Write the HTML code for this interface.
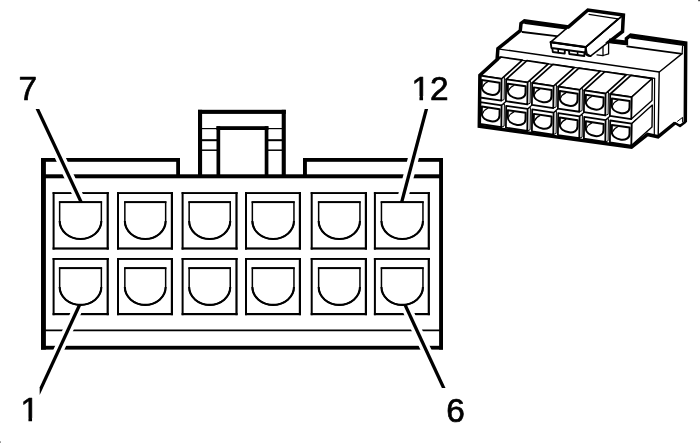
<!DOCTYPE html>
<html lang="en"><head><meta charset="utf-8"><title>12-way connector end view</title>
<style>
html,body{margin:0;padding:0;background:#fff;}
body{width:700px;height:443px;overflow:hidden;}
svg{display:block;font-family:"Liberation Sans",sans-serif;}
svg{will-change:transform;}
</style></head><body>
<svg width="700" height="443" viewBox="0 0 700 443">
<rect width="700" height="443" fill="#fff"/>
<rect x="41.00" y="158.00" width="4.90" height="191.60" fill="#000"/>
<rect x="439.10" y="158.00" width="3.90" height="191.60" fill="#000"/>
<rect x="41.00" y="158.00" width="139.00" height="3.80" fill="#000"/>
<rect x="176.20" y="158.00" width="3.80" height="20.00" fill="#000"/>
<rect x="303.00" y="158.00" width="140.00" height="3.80" fill="#000"/>
<rect x="303.00" y="158.00" width="3.90" height="20.00" fill="#000"/>
<rect x="41.00" y="174.30" width="402.00" height="4.00" fill="#000"/>
<rect x="41.00" y="345.80" width="402.00" height="3.80" fill="#000"/>
<rect x="198.00" y="109.80" width="87.80" height="4.10" fill="#000"/>
<rect x="198.00" y="109.80" width="4.10" height="68.20" fill="#000"/>
<rect x="281.70" y="109.80" width="4.10" height="68.20" fill="#000"/>
<rect x="216.50" y="126.20" width="51.90" height="3.80" fill="#000"/>
<rect x="216.50" y="126.20" width="3.70" height="51.80" fill="#000"/>
<rect x="264.70" y="126.20" width="3.70" height="51.80" fill="#000"/>
<line x1="200.00" y1="128.60" x2="218.00" y2="128.60" stroke="#000" stroke-width="1.2" stroke-linecap="butt"/>
<line x1="267.00" y1="128.60" x2="284.00" y2="128.60" stroke="#000" stroke-width="1.2" stroke-linecap="butt"/>
<line x1="200.00" y1="140.20" x2="218.00" y2="140.20" stroke="#000" stroke-width="2" stroke-linecap="butt"/>
<line x1="267.00" y1="140.20" x2="284.00" y2="140.20" stroke="#000" stroke-width="2" stroke-linecap="butt"/>
<line x1="200.00" y1="150.20" x2="218.00" y2="150.20" stroke="#000" stroke-width="1.5" stroke-linecap="butt"/>
<line x1="267.00" y1="150.20" x2="284.00" y2="150.20" stroke="#000" stroke-width="1.5" stroke-linecap="butt"/>
<line x1="44.00" y1="330.45" x2="440.00" y2="330.45" stroke="#000" stroke-width="1.7" stroke-linecap="butt"/>
<rect x="52.60" y="192.10" width="56.20" height="1.90" fill="#000"/>
<rect x="52.60" y="192.10" width="2.00" height="57.50" fill="#000"/>
<rect x="106.60" y="192.10" width="2.20" height="57.50" fill="#000"/>
<rect x="52.60" y="247.40" width="56.20" height="2.20" fill="#000"/>
<path d="M59.65 202.05 H101.35 V221.10 A20.85 17.90 0 0 1 59.65 221.10 Z" fill="#fff" stroke="#000" stroke-width="1.5"/>
<path d="M101.35 221.10 A20.85 17.90 0 0 1 59.65 221.10" fill="none" stroke="#000" stroke-width="2.1"/>
<rect x="58.90" y="201.30" width="43.20" height="1.80" fill="#000"/>
<rect x="117.00" y="192.10" width="56.00" height="1.90" fill="#000"/>
<rect x="117.00" y="192.10" width="2.00" height="57.50" fill="#000"/>
<rect x="170.80" y="192.10" width="2.20" height="57.50" fill="#000"/>
<rect x="117.00" y="247.40" width="56.00" height="2.20" fill="#000"/>
<path d="M124.85 202.05 H165.65 V221.10 A20.40 17.90 0 0 1 124.85 221.10 Z" fill="#fff" stroke="#000" stroke-width="1.5"/>
<path d="M165.65 221.10 A20.40 17.90 0 0 1 124.85 221.10" fill="none" stroke="#000" stroke-width="2.1"/>
<rect x="124.10" y="201.30" width="42.30" height="1.80" fill="#000"/>
<rect x="181.60" y="192.10" width="56.00" height="1.90" fill="#000"/>
<rect x="181.60" y="192.10" width="2.00" height="57.50" fill="#000"/>
<rect x="235.40" y="192.10" width="2.20" height="57.50" fill="#000"/>
<rect x="181.60" y="247.40" width="56.00" height="2.20" fill="#000"/>
<path d="M189.15 202.05 H230.25 V221.10 A20.55 17.90 0 0 1 189.15 221.10 Z" fill="#fff" stroke="#000" stroke-width="1.5"/>
<path d="M230.25 221.10 A20.55 17.90 0 0 1 189.15 221.10" fill="none" stroke="#000" stroke-width="2.1"/>
<rect x="188.40" y="201.30" width="42.60" height="1.80" fill="#000"/>
<rect x="245.00" y="192.10" width="56.00" height="1.90" fill="#000"/>
<rect x="245.00" y="192.10" width="2.00" height="57.50" fill="#000"/>
<rect x="298.80" y="192.10" width="2.20" height="57.50" fill="#000"/>
<rect x="245.00" y="247.40" width="56.00" height="2.20" fill="#000"/>
<path d="M252.35 202.05 H293.95 V221.10 A20.80 17.90 0 0 1 252.35 221.10 Z" fill="#fff" stroke="#000" stroke-width="1.5"/>
<path d="M293.95 221.10 A20.80 17.90 0 0 1 252.35 221.10" fill="none" stroke="#000" stroke-width="2.1"/>
<rect x="251.60" y="201.30" width="43.10" height="1.80" fill="#000"/>
<rect x="310.70" y="192.10" width="56.30" height="1.90" fill="#000"/>
<rect x="310.70" y="192.10" width="2.00" height="57.50" fill="#000"/>
<rect x="364.80" y="192.10" width="2.20" height="57.50" fill="#000"/>
<rect x="310.70" y="247.40" width="56.30" height="2.20" fill="#000"/>
<path d="M318.65 202.05 H359.95 V221.10 A20.65 17.90 0 0 1 318.65 221.10 Z" fill="#fff" stroke="#000" stroke-width="1.5"/>
<path d="M359.95 221.10 A20.65 17.90 0 0 1 318.65 221.10" fill="none" stroke="#000" stroke-width="2.1"/>
<rect x="317.90" y="201.30" width="42.80" height="1.80" fill="#000"/>
<rect x="373.90" y="192.10" width="56.00" height="1.90" fill="#000"/>
<rect x="373.90" y="192.10" width="2.00" height="57.50" fill="#000"/>
<rect x="427.70" y="192.10" width="2.20" height="57.50" fill="#000"/>
<rect x="373.90" y="247.40" width="56.00" height="2.20" fill="#000"/>
<path d="M381.45 202.05 H422.95 V221.10 A20.75 17.90 0 0 1 381.45 221.10 Z" fill="#fff" stroke="#000" stroke-width="1.5"/>
<path d="M422.95 221.10 A20.75 17.90 0 0 1 381.45 221.10" fill="none" stroke="#000" stroke-width="2.1"/>
<rect x="380.70" y="201.30" width="43.00" height="1.80" fill="#000"/>
<rect x="52.60" y="258.00" width="56.20" height="1.90" fill="#000"/>
<rect x="52.60" y="258.00" width="2.00" height="57.20" fill="#000"/>
<rect x="106.60" y="258.00" width="2.20" height="57.20" fill="#000"/>
<rect x="52.60" y="313.00" width="56.20" height="2.20" fill="#000"/>
<path d="M59.65 268.05 H101.35 V287.10 A20.85 17.80 0 0 1 59.65 287.10 Z" fill="#fff" stroke="#000" stroke-width="1.5"/>
<path d="M101.35 287.10 A20.85 17.80 0 0 1 59.65 287.10" fill="none" stroke="#000" stroke-width="2.1"/>
<rect x="58.90" y="267.30" width="43.20" height="1.80" fill="#000"/>
<rect x="117.00" y="258.00" width="56.00" height="1.90" fill="#000"/>
<rect x="117.00" y="258.00" width="2.00" height="57.20" fill="#000"/>
<rect x="170.80" y="258.00" width="2.20" height="57.20" fill="#000"/>
<rect x="117.00" y="313.00" width="56.00" height="2.20" fill="#000"/>
<path d="M124.85 268.05 H165.65 V287.10 A20.40 17.80 0 0 1 124.85 287.10 Z" fill="#fff" stroke="#000" stroke-width="1.5"/>
<path d="M165.65 287.10 A20.40 17.80 0 0 1 124.85 287.10" fill="none" stroke="#000" stroke-width="2.1"/>
<rect x="124.10" y="267.30" width="42.30" height="1.80" fill="#000"/>
<rect x="181.60" y="258.00" width="56.00" height="1.90" fill="#000"/>
<rect x="181.60" y="258.00" width="2.00" height="57.20" fill="#000"/>
<rect x="235.40" y="258.00" width="2.20" height="57.20" fill="#000"/>
<rect x="181.60" y="313.00" width="56.00" height="2.20" fill="#000"/>
<path d="M189.15 268.05 H230.25 V287.10 A20.55 17.80 0 0 1 189.15 287.10 Z" fill="#fff" stroke="#000" stroke-width="1.5"/>
<path d="M230.25 287.10 A20.55 17.80 0 0 1 189.15 287.10" fill="none" stroke="#000" stroke-width="2.1"/>
<rect x="188.40" y="267.30" width="42.60" height="1.80" fill="#000"/>
<rect x="245.00" y="258.00" width="56.00" height="1.90" fill="#000"/>
<rect x="245.00" y="258.00" width="2.00" height="57.20" fill="#000"/>
<rect x="298.80" y="258.00" width="2.20" height="57.20" fill="#000"/>
<rect x="245.00" y="313.00" width="56.00" height="2.20" fill="#000"/>
<path d="M252.35 268.05 H293.95 V287.10 A20.80 17.80 0 0 1 252.35 287.10 Z" fill="#fff" stroke="#000" stroke-width="1.5"/>
<path d="M293.95 287.10 A20.80 17.80 0 0 1 252.35 287.10" fill="none" stroke="#000" stroke-width="2.1"/>
<rect x="251.60" y="267.30" width="43.10" height="1.80" fill="#000"/>
<rect x="310.70" y="258.00" width="56.30" height="1.90" fill="#000"/>
<rect x="310.70" y="258.00" width="2.00" height="57.20" fill="#000"/>
<rect x="364.80" y="258.00" width="2.20" height="57.20" fill="#000"/>
<rect x="310.70" y="313.00" width="56.30" height="2.20" fill="#000"/>
<path d="M318.65 268.05 H359.95 V287.10 A20.65 17.80 0 0 1 318.65 287.10 Z" fill="#fff" stroke="#000" stroke-width="1.5"/>
<path d="M359.95 287.10 A20.65 17.80 0 0 1 318.65 287.10" fill="none" stroke="#000" stroke-width="2.1"/>
<rect x="317.90" y="267.30" width="42.80" height="1.80" fill="#000"/>
<rect x="373.90" y="258.00" width="56.00" height="1.90" fill="#000"/>
<rect x="373.90" y="258.00" width="2.00" height="57.20" fill="#000"/>
<rect x="427.70" y="258.00" width="2.20" height="57.20" fill="#000"/>
<rect x="373.90" y="313.00" width="56.00" height="2.20" fill="#000"/>
<path d="M381.45 268.05 H422.95 V287.10 A20.75 17.80 0 0 1 381.45 287.10 Z" fill="#fff" stroke="#000" stroke-width="1.5"/>
<path d="M422.95 287.10 A20.75 17.80 0 0 1 381.45 287.10" fill="none" stroke="#000" stroke-width="2.1"/>
<rect x="380.70" y="267.30" width="43.00" height="1.80" fill="#000"/>
<polygon points="31.41,108.00 42.41,108.00 84.99,198.60 73.99,198.60" fill="#fff"/>
<polygon points="421.19,108.00 432.19,108.00 408.11,198.60 397.11,198.60" fill="#fff"/>
<polygon points="72.07,309.30 83.07,309.30 43.90,394.00 32.90,394.00" fill="#fff"/>
<polygon points="401.61,309.30 412.61,309.30 450.14,390.00 439.14,390.00" fill="#fff"/>
<polygon points="35.60,109.10 39.25,109.10 82.91,202.00 79.27,202.00" fill="#000"/>
<polygon points="424.69,109.10 428.11,109.10 403.42,202.00 400.00,202.00" fill="#000"/>
<polygon points="77.74,305.00 81.38,305.00 39.70,395.12 39.70,387.26" fill="#000"/>
<polygon points="403.30,305.00 406.93,305.00 445.53,388.00 441.89,388.00" fill="#000"/>
<text x="18.4" y="99.7" font-size="33.4" text-anchor="start" stroke="#000" stroke-width="0.7" stroke-linejoin="round">7</text>
<text x="411.4" y="99.7" font-size="33.4" text-anchor="start" stroke="#000" stroke-width="0.7" stroke-linejoin="round">12</text>
<text x="20.4" y="421.35" font-size="33.4" text-anchor="start" stroke="#000" stroke-width="0.7" stroke-linejoin="round">1</text>
<text x="446.3" y="421.7" font-size="33.4" text-anchor="start" stroke="#000" stroke-width="0.7" stroke-linejoin="round">6</text>
<rect x="412.0" y="96.0" width="7.45" height="5.50" fill="#fff"/>
<rect x="423.05" y="96.0" width="6.95" height="5.50" fill="#fff"/>
<rect x="21.0" y="417.9" width="7.45" height="5.10" fill="#fff"/>
<rect x="32.05" y="417.9" width="6.95" height="5.10" fill="#fff"/>
<rect x="0" y="441.2" width="1" height="1.8" fill="#999"/>
<rect x="698.2" y="0" width="1.8" height="1.2" fill="#444"/>
<g id="iso">
<polygon points="524.50,20.80 568.80,26.90 587.90,10.00 623.40,15.00 622.50,31.50 610.00,41.60 626.40,43.60 626.40,38.60 630.70,35.20 685.70,43.00 685.30,122.00 680.00,126.00 675.00,123.00 658.00,136.80 647.60,134.50 631.50,147.20 479.30,126.30 479.90,75.30 497.10,59.50 497.90,48.60 520.30,30.70 521.00,23.40" fill="#fff" stroke="#fff" stroke-width="0.1" stroke-linejoin="round" stroke-linecap="round"/>
<polyline points="522.50,32.00 558.50,36.30" fill="none" stroke="#000" stroke-width="1.8" stroke-linejoin="round" stroke-linecap="round"/>
<polyline points="627.10,46.40 680.50,53.60" fill="none" stroke="#000" stroke-width="1.6" stroke-linejoin="round" stroke-linecap="round"/>
<polyline points="682.60,46.00 682.10,53.60" fill="none" stroke="#000" stroke-width="1.2" stroke-linejoin="round" stroke-linecap="round"/>
<polyline points="497.90,48.90 502.90,49.60 659.30,72.00 682.10,53.60" fill="none" stroke="#000" stroke-width="1.4" stroke-linejoin="round" stroke-linecap="round"/>
<polyline points="497.50,57.00 500.00,57.30 654.50,78.40" fill="none" stroke="#000" stroke-width="1.4" stroke-linejoin="round" stroke-linecap="round"/>
<polyline points="659.20,72.00 658.20,136.00" fill="none" stroke="#000" stroke-width="1.4" stroke-linejoin="round" stroke-linecap="round"/>
<polyline points="654.60,78.40 654.30,134.50" fill="none" stroke="#000" stroke-width="1.2" stroke-linejoin="round" stroke-linecap="round"/>
<polygon points="480.20,102.10 484.75,98.01 506.15,101.21 501.60,105.30" fill="#fff" stroke="#fff" stroke-width="0.1" stroke-linejoin="round" stroke-linecap="round"/>
<polyline points="501.60,105.30 506.15,101.21" fill="none" stroke="#000" stroke-width="1.3" stroke-linejoin="round" stroke-linecap="round"/>
<polygon points="501.60,105.30 504.41,103.74 504.10,126.08 501.30,127.20" fill="#fff" stroke="#000" stroke-width="1.0" stroke-linejoin="round" stroke-linecap="round"/>
<polygon points="480.20,102.10 501.60,105.30 501.30,127.20 479.90,124.00" fill="#fff" stroke="#000" stroke-width="1.8" stroke-linejoin="round" stroke-linecap="round"/>
<path d="M481.85 106.52 L499.62 109.17 L499.53 115.52 C499.47 119.90 495.37 121.92 491.09 121.28 C485.95 120.52 481.70 117.69 481.76 113.31 Z" fill="#fff" stroke="#000" stroke-width="2.0" stroke-linejoin="round" stroke-linecap="round"/>
<path d="M487.83 108.29 C485.25 109.44 483.51 110.93 482.62 113.43" fill="none" stroke="#000" stroke-width="1.2" stroke-linejoin="round" stroke-linecap="round"/>
<polygon points="506.20,105.78 510.75,101.69 532.15,104.89 527.60,108.98" fill="#fff" stroke="#fff" stroke-width="0.1" stroke-linejoin="round" stroke-linecap="round"/>
<polyline points="527.60,108.98 532.15,104.89" fill="none" stroke="#000" stroke-width="1.3" stroke-linejoin="round" stroke-linecap="round"/>
<polygon points="527.60,108.98 530.41,107.42 530.10,129.76 527.30,130.88" fill="#fff" stroke="#000" stroke-width="1.0" stroke-linejoin="round" stroke-linecap="round"/>
<polygon points="506.20,105.78 527.60,108.98 527.30,130.88 505.90,127.68" fill="#fff" stroke="#000" stroke-width="1.8" stroke-linejoin="round" stroke-linecap="round"/>
<path d="M507.85 110.20 L525.62 112.85 L525.53 119.20 C525.47 123.58 521.37 125.60 517.09 124.96 C511.95 124.20 507.70 121.37 507.76 116.99 Z" fill="#fff" stroke="#000" stroke-width="2.0" stroke-linejoin="round" stroke-linecap="round"/>
<path d="M513.84 111.97 C511.25 113.12 509.51 114.61 508.62 117.11" fill="none" stroke="#000" stroke-width="1.2" stroke-linejoin="round" stroke-linecap="round"/>
<polygon points="532.20,109.46 536.75,105.37 558.15,108.57 553.60,112.66" fill="#fff" stroke="#fff" stroke-width="0.1" stroke-linejoin="round" stroke-linecap="round"/>
<polyline points="553.60,112.66 558.15,108.57" fill="none" stroke="#000" stroke-width="1.3" stroke-linejoin="round" stroke-linecap="round"/>
<polygon points="553.60,112.66 556.41,111.10 556.10,133.44 553.30,134.56" fill="#fff" stroke="#000" stroke-width="1.0" stroke-linejoin="round" stroke-linecap="round"/>
<polygon points="532.20,109.46 553.60,112.66 553.30,134.56 531.90,131.36" fill="#fff" stroke="#000" stroke-width="1.8" stroke-linejoin="round" stroke-linecap="round"/>
<path d="M533.86 113.88 L551.62 116.53 L551.53 122.88 C551.47 127.26 547.37 129.28 543.09 128.64 C537.95 127.88 533.70 125.05 533.76 120.67 Z" fill="#fff" stroke="#000" stroke-width="2.0" stroke-linejoin="round" stroke-linecap="round"/>
<path d="M539.84 115.65 C537.25 116.80 535.51 118.29 534.62 120.79" fill="none" stroke="#000" stroke-width="1.2" stroke-linejoin="round" stroke-linecap="round"/>
<polygon points="558.20,113.14 562.75,109.05 584.15,112.25 579.60,116.34" fill="#fff" stroke="#fff" stroke-width="0.1" stroke-linejoin="round" stroke-linecap="round"/>
<polyline points="579.60,116.34 584.15,112.25" fill="none" stroke="#000" stroke-width="1.3" stroke-linejoin="round" stroke-linecap="round"/>
<polygon points="579.60,116.34 582.41,114.78 582.10,137.12 579.30,138.24" fill="#fff" stroke="#000" stroke-width="1.0" stroke-linejoin="round" stroke-linecap="round"/>
<polygon points="558.20,113.14 579.60,116.34 579.30,138.24 557.90,135.04" fill="#fff" stroke="#000" stroke-width="1.8" stroke-linejoin="round" stroke-linecap="round"/>
<path d="M559.86 117.56 L577.62 120.21 L577.53 126.56 C577.47 130.94 573.37 132.96 569.09 132.32 C563.95 131.56 559.70 128.73 559.76 124.35 Z" fill="#fff" stroke="#000" stroke-width="2.0" stroke-linejoin="round" stroke-linecap="round"/>
<path d="M565.84 119.33 C563.25 120.48 561.51 121.97 560.62 124.47" fill="none" stroke="#000" stroke-width="1.2" stroke-linejoin="round" stroke-linecap="round"/>
<polygon points="584.20,116.82 588.75,112.73 610.15,115.93 605.60,120.02" fill="#fff" stroke="#fff" stroke-width="0.1" stroke-linejoin="round" stroke-linecap="round"/>
<polyline points="605.60,120.02 610.15,115.93" fill="none" stroke="#000" stroke-width="1.3" stroke-linejoin="round" stroke-linecap="round"/>
<polygon points="605.60,120.02 608.41,118.46 608.10,140.80 605.30,141.92" fill="#fff" stroke="#000" stroke-width="1.0" stroke-linejoin="round" stroke-linecap="round"/>
<polygon points="584.20,116.82 605.60,120.02 605.30,141.92 583.90,138.72" fill="#fff" stroke="#000" stroke-width="1.8" stroke-linejoin="round" stroke-linecap="round"/>
<path d="M585.86 121.24 L603.62 123.89 L603.53 130.24 C603.47 134.62 599.37 136.64 595.09 136.00 C589.95 135.24 585.70 132.41 585.76 128.03 Z" fill="#fff" stroke="#000" stroke-width="2.0" stroke-linejoin="round" stroke-linecap="round"/>
<path d="M591.84 123.01 C589.25 124.16 587.51 125.65 586.62 128.15" fill="none" stroke="#000" stroke-width="1.2" stroke-linejoin="round" stroke-linecap="round"/>
<polygon points="610.20,120.50 614.75,116.41 636.15,119.61 631.60,123.70" fill="#fff" stroke="#fff" stroke-width="0.1" stroke-linejoin="round" stroke-linecap="round"/>
<polyline points="631.60,123.70 636.15,119.61" fill="none" stroke="#000" stroke-width="1.3" stroke-linejoin="round" stroke-linecap="round"/>
<polygon points="631.60,123.70 652.30,105.10 652.00,127.00 631.30,145.60" fill="#fff" stroke="#000" stroke-width="1.4" stroke-linejoin="round" stroke-linecap="round"/>
<polygon points="610.20,120.50 631.60,123.70 631.30,145.60 609.90,142.40" fill="#fff" stroke="#000" stroke-width="1.8" stroke-linejoin="round" stroke-linecap="round"/>
<path d="M611.86 124.92 L629.62 127.57 L629.53 133.92 C629.47 138.30 625.37 140.32 621.09 139.68 C615.95 138.92 611.70 136.09 611.76 131.71 Z" fill="#fff" stroke="#000" stroke-width="2.0" stroke-linejoin="round" stroke-linecap="round"/>
<path d="M617.84 126.69 C615.25 127.84 613.51 129.33 612.62 131.83" fill="none" stroke="#000" stroke-width="1.2" stroke-linejoin="round" stroke-linecap="round"/>
<polygon points="480.20,75.60 500.90,57.00 522.30,60.20 501.60,78.80" fill="#fff" stroke="#000" stroke-width="1.7" stroke-linejoin="round" stroke-linecap="round"/>
<polygon points="501.60,78.80 504.41,77.24 504.10,99.58 501.30,100.70" fill="#fff" stroke="#000" stroke-width="1.0" stroke-linejoin="round" stroke-linecap="round"/>
<polygon points="480.20,75.60 501.60,78.80 501.30,100.70 479.90,97.50" fill="#fff" stroke="#000" stroke-width="1.8" stroke-linejoin="round" stroke-linecap="round"/>
<path d="M481.85 80.02 L499.62 82.67 L499.53 89.02 C499.47 93.40 495.37 95.42 491.09 94.78 C485.95 94.02 481.70 91.19 481.76 86.81 Z" fill="#fff" stroke="#000" stroke-width="2.0" stroke-linejoin="round" stroke-linecap="round"/>
<path d="M487.83 81.79 C485.25 82.94 483.51 84.43 482.62 86.93" fill="none" stroke="#000" stroke-width="1.2" stroke-linejoin="round" stroke-linecap="round"/>
<polygon points="506.20,79.28 526.90,60.68 548.30,63.88 527.60,82.48" fill="#fff" stroke="#000" stroke-width="1.7" stroke-linejoin="round" stroke-linecap="round"/>
<polygon points="527.60,82.48 530.41,80.92 530.10,103.26 527.30,104.38" fill="#fff" stroke="#000" stroke-width="1.0" stroke-linejoin="round" stroke-linecap="round"/>
<polygon points="506.20,79.28 527.60,82.48 527.30,104.38 505.90,101.18" fill="#fff" stroke="#000" stroke-width="1.8" stroke-linejoin="round" stroke-linecap="round"/>
<path d="M507.85 83.70 L525.62 86.35 L525.53 92.70 C525.47 97.08 521.37 99.10 517.09 98.46 C511.95 97.70 507.70 94.87 507.76 90.49 Z" fill="#fff" stroke="#000" stroke-width="2.0" stroke-linejoin="round" stroke-linecap="round"/>
<path d="M513.84 85.47 C511.25 86.62 509.51 88.11 508.62 90.61" fill="none" stroke="#000" stroke-width="1.2" stroke-linejoin="round" stroke-linecap="round"/>
<polygon points="532.20,82.96 552.90,64.36 574.30,67.56 553.60,86.16" fill="#fff" stroke="#000" stroke-width="1.7" stroke-linejoin="round" stroke-linecap="round"/>
<polygon points="553.60,86.16 556.41,84.60 556.10,106.94 553.30,108.06" fill="#fff" stroke="#000" stroke-width="1.0" stroke-linejoin="round" stroke-linecap="round"/>
<polygon points="532.20,82.96 553.60,86.16 553.30,108.06 531.90,104.86" fill="#fff" stroke="#000" stroke-width="1.8" stroke-linejoin="round" stroke-linecap="round"/>
<path d="M533.86 87.38 L551.62 90.03 L551.53 96.38 C551.47 100.76 547.37 102.78 543.09 102.14 C537.95 101.38 533.70 98.55 533.76 94.17 Z" fill="#fff" stroke="#000" stroke-width="2.0" stroke-linejoin="round" stroke-linecap="round"/>
<path d="M539.84 89.15 C537.25 90.30 535.51 91.79 534.62 94.29" fill="none" stroke="#000" stroke-width="1.2" stroke-linejoin="round" stroke-linecap="round"/>
<polygon points="558.20,86.64 578.90,68.04 600.30,71.24 579.60,89.84" fill="#fff" stroke="#000" stroke-width="1.7" stroke-linejoin="round" stroke-linecap="round"/>
<polygon points="579.60,89.84 582.41,88.28 582.10,110.62 579.30,111.74" fill="#fff" stroke="#000" stroke-width="1.0" stroke-linejoin="round" stroke-linecap="round"/>
<polygon points="558.20,86.64 579.60,89.84 579.30,111.74 557.90,108.54" fill="#fff" stroke="#000" stroke-width="1.8" stroke-linejoin="round" stroke-linecap="round"/>
<path d="M559.86 91.06 L577.62 93.71 L577.53 100.06 C577.47 104.44 573.37 106.46 569.09 105.82 C563.95 105.06 559.70 102.23 559.76 97.85 Z" fill="#fff" stroke="#000" stroke-width="2.0" stroke-linejoin="round" stroke-linecap="round"/>
<path d="M565.84 92.83 C563.25 93.98 561.51 95.47 560.62 97.97" fill="none" stroke="#000" stroke-width="1.2" stroke-linejoin="round" stroke-linecap="round"/>
<polygon points="584.20,90.32 604.90,71.72 626.30,74.92 605.60,93.52" fill="#fff" stroke="#000" stroke-width="1.7" stroke-linejoin="round" stroke-linecap="round"/>
<polygon points="605.60,93.52 608.41,91.96 608.10,114.30 605.30,115.42" fill="#fff" stroke="#000" stroke-width="1.0" stroke-linejoin="round" stroke-linecap="round"/>
<polygon points="584.20,90.32 605.60,93.52 605.30,115.42 583.90,112.22" fill="#fff" stroke="#000" stroke-width="1.8" stroke-linejoin="round" stroke-linecap="round"/>
<path d="M585.86 94.74 L603.62 97.39 L603.53 103.74 C603.47 108.12 599.37 110.14 595.09 109.50 C589.95 108.74 585.70 105.91 585.76 101.53 Z" fill="#fff" stroke="#000" stroke-width="2.0" stroke-linejoin="round" stroke-linecap="round"/>
<path d="M591.84 96.51 C589.25 97.66 587.51 99.15 586.62 101.65" fill="none" stroke="#000" stroke-width="1.2" stroke-linejoin="round" stroke-linecap="round"/>
<polygon points="610.20,94.00 630.90,75.40 652.30,78.60 631.60,97.20" fill="#fff" stroke="#000" stroke-width="1.7" stroke-linejoin="round" stroke-linecap="round"/>
<polygon points="631.60,97.20 652.30,78.60 652.00,100.50 631.30,119.10" fill="#fff" stroke="#000" stroke-width="1.4" stroke-linejoin="round" stroke-linecap="round"/>
<polygon points="610.20,94.00 631.60,97.20 631.30,119.10 609.90,115.90" fill="#fff" stroke="#000" stroke-width="1.8" stroke-linejoin="round" stroke-linecap="round"/>
<path d="M611.86 98.42 L629.62 101.07 L629.53 107.42 C629.47 111.80 625.37 113.82 621.09 113.18 C615.95 112.42 611.70 109.59 611.76 105.21 Z" fill="#fff" stroke="#000" stroke-width="2.0" stroke-linejoin="round" stroke-linecap="round"/>
<path d="M617.84 100.19 C615.25 101.34 613.51 102.83 612.62 105.33" fill="none" stroke="#000" stroke-width="1.2" stroke-linejoin="round" stroke-linecap="round"/>
<polyline points="603.00,45.00 603.00,55.50 608.60,53.80 608.60,41.00" fill="#fff" stroke="#000" stroke-width="1.3" stroke-linejoin="round" stroke-linecap="round"/>
<polyline points="597.00,54.80 603.00,55.60" fill="none" stroke="#000" stroke-width="1.3" stroke-linejoin="round" stroke-linecap="round"/>
<polygon points="617.90,19.30 622.80,15.20 622.20,31.40 590.50,56.20 587.00,54.00 585.70,47.10" fill="#fff" stroke="#000" stroke-width="1.5" stroke-linejoin="round" stroke-linecap="round"/>
<polyline points="552.30,48.00 552.80,52.00 564.70,53.60 564.90,49.80" fill="#fff" stroke="#000" stroke-width="1.9" stroke-linejoin="round" stroke-linecap="round"/>
<polyline points="558.20,49.00 558.20,52.60" fill="none" stroke="#000" stroke-width="1.6" stroke-linejoin="round" stroke-linecap="round"/>
<polyline points="569.00,50.40 569.30,54.00 584.30,56.00 584.60,52.40" fill="#fff" stroke="#000" stroke-width="1.9" stroke-linejoin="round" stroke-linecap="round"/>
<polyline points="577.60,51.60 577.60,55.00" fill="none" stroke="#000" stroke-width="1.6" stroke-linejoin="round" stroke-linecap="round"/>
<polygon points="550.70,42.10 551.40,48.00 585.20,52.50 585.70,47.10" fill="#fff" stroke="#000" stroke-width="1.9" stroke-linejoin="round" stroke-linecap="round"/>
<path d="M585.2 52.6 Q586 56 590.5 56.2" fill="none" stroke="#000" stroke-width="1.8" stroke-linejoin="round" stroke-linecap="round"/>
<polygon points="587.90,10.00 550.70,42.10 585.70,47.10 617.90,19.30 623.40,15.00" fill="#fff" stroke="#000" stroke-width="1.6" stroke-linejoin="round" stroke-linecap="round"/>
<polyline points="550.70,42.10 585.70,47.10" fill="none" stroke="#000" stroke-width="2.2" stroke-linejoin="round" stroke-linecap="round"/>
<polyline points="589.00,14.40 617.90,18.90" fill="none" stroke="#000" stroke-width="1.1" stroke-linejoin="round" stroke-linecap="round"/>
<polyline points="585.70,47.10 617.90,19.30" fill="none" stroke="#000" stroke-width="1.8" stroke-linejoin="round" stroke-linecap="round"/>
<polyline points="568.80,26.90 524.50,20.80 521.00,23.40 520.30,30.70 497.90,48.60 497.10,59.50 479.90,75.30 479.30,126.30 631.50,147.20 647.60,134.50 658.00,136.80 675.00,123.00" fill="none" stroke="#000" stroke-width="3.5" stroke-linejoin="miter" stroke-linecap="butt"/>
<polyline points="675.00,123.00 680.00,126.00 685.30,122.00" fill="none" stroke="#000" stroke-width="2.4" stroke-linejoin="round" stroke-linecap="round"/>
<polyline points="677.50,121.30 682.60,117.40 682.60,122.00" fill="none" stroke="#000" stroke-width="1.0" stroke-linejoin="round" stroke-linecap="round"/>
<polyline points="685.30,122.00 685.70,43.00 630.70,35.20 626.40,38.60 626.40,43.60 609.50,41.50 622.50,31.50 623.40,15.00 587.90,10.00 567.60,27.60" fill="none" stroke="#000" stroke-width="3.5" stroke-linejoin="miter" stroke-linecap="butt"/>
<polyline points="525.00,23.00 566.00,28.60" fill="none" stroke="#000" stroke-width="2.0" stroke-linejoin="round" stroke-linecap="round"/>
<polyline points="609.00,40.60 626.40,42.60" fill="none" stroke="#000" stroke-width="4.2" stroke-linejoin="round" stroke-linecap="butt"/>
<polyline points="631.00,37.50 684.00,45.00" fill="none" stroke="#000" stroke-width="2.0" stroke-linejoin="round" stroke-linecap="round"/>
</g>
</svg>
</body></html>
